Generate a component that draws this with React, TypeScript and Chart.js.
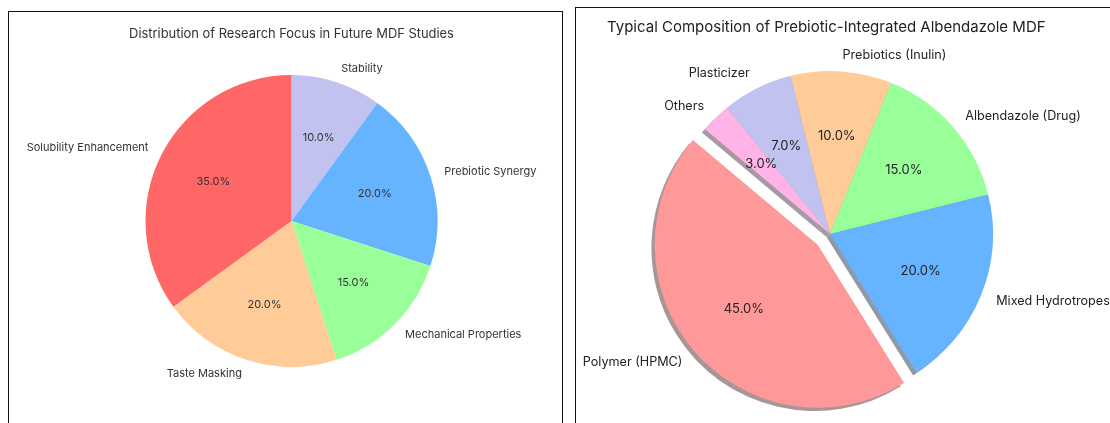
import React, { useEffect, useRef } from 'react';
import { Chart, registerables } from 'chart.js';

Chart.register(...registerables);

// ---- Left chart data ----
const focusTitle = 'Distribution of Research Focus in Future MDF Studies';
const focusLabels = ['Solubility Enhancement', 'Taste Masking', 'Mechanical Properties', 'Prebiotic Synergy', 'Stability'];
const focusValues = [35, 20, 15, 20, 10];
const focusColors = ['#ff6666', '#ffcc99', '#99ff99', '#66b3ff', '#c2c2f0'];
const focusExplode = [0, 0, 0, 0, 0];

// ---- Right chart data ----
const compTitle = 'Typical Composition of Prebiotic-Integrated Albendazole MDF';
const compLabels = ['Polymer (HPMC)', 'Mixed Hydrotropes', 'Albendazole (Drug)', 'Prebiotics (Inulin)', 'Plasticizer', 'Others'];
const compValues = [45, 20, 15, 10, 7, 3];
const compColors = ['#ff9999', '#66b3ff', '#99ff99', '#ffcc99', '#c2c2f0', '#ffb3e6'];
const compExplode = [0.1, 0, 0, 0, 0, 0];

const W = 1110;
const H = 423;
const FONT = 'Inter, Lato, "Noto Sans", sans-serif';

function hexToRgb(h: string) {
  const n = parseInt(h.slice(1), 16);
  return [(n >> 16) & 255, (n >> 8) & 255, n & 255];
}

interface PieCfg {
  labels: string[];
  values: number[];
  colors: string[];
  explode: number[];
  startAngle: number; // matplotlib-style start angle, degrees (ccw from 3 o'clock)
  cx: number;
  cy: number;
  radius: number;
  shadow: boolean;
  labelFont: number;
  pctFont: number;
  textColor: string;
  title: string;
  titleFont: number;
  titleX: number;
  titleY: number;
  titleAlign: CanvasTextAlign;
  titleColor: string;
}

function buildPie(canvas: HTMLCanvasElement, c: PieCfg) {
  // matplotlib draws counter-clockwise; Chart.js clockwise -> reverse order
  const labels = [...c.labels].reverse();
  const values = [...c.values].reverse();
  const colors = [...c.colors].reverse();
  const explode = [...c.explode].reverse();
  const total = values.reduce((a, b) => a + b, 0);

  const h = Math.min(c.cx, W - c.cx, c.cy, H - c.cy) - 1;

  const painter = {
    id: 'piePainter',
    beforeDatasetDraw(chart: any, args: any) {
      const ctx: CanvasRenderingContext2D = chart.ctx;
      const arcs = args.meta.data;
      if (c.shadow) {
        arcs.forEach((arc: any, i: number) => {
          const { x, y, startAngle, endAngle, outerRadius } = arc;
          const mid = (startAngle + endAngle) / 2;
          const ex = explode[i] * outerRadius;
          const ox = x + Math.cos(mid) * ex - 0.02 * outerRadius;
          const oy = y + Math.sin(mid) * ex + 0.02 * outerRadius;
          const [r, g, b] = hexToRgb(colors[i]);
          ctx.save();
          ctx.beginPath();
          ctx.moveTo(ox, oy);
          ctx.arc(ox, oy, outerRadius, startAngle, endAngle);
          ctx.closePath();
          ctx.fillStyle = `rgba(${Math.round(r * 0.3)},${Math.round(g * 0.3)},${Math.round(b * 0.3)},0.5)`;
          ctx.fill();
          ctx.restore();
        });
      }
      arcs.forEach((arc: any, i: number) => {
        const mid = (arc.startAngle + arc.endAngle) / 2;
        const ex = explode[i] * arc.outerRadius;
        ctx.save();
        ctx.translate(Math.cos(mid) * ex, Math.sin(mid) * ex);
        arc.draw(ctx, chart.chartArea);
        ctx.restore();
      });
      return false;
    },
    afterDatasetsDraw(chart: any) {
      const ctx: CanvasRenderingContext2D = chart.ctx;
      const arcs = chart.getDatasetMeta(0).data;
      ctx.save();
      ctx.fillStyle = c.textColor;
      ctx.textBaseline = 'middle';
      arcs.forEach((arc: any, i: number) => {
        const { x, y, startAngle, endAngle, outerRadius } = arc;
        const mid = (startAngle + endAngle) / 2;
        const ex = explode[i] * outerRadius;
        const bx = x + Math.cos(mid) * ex;
        const by = y + Math.sin(mid) * ex;
        const cos = Math.cos(mid);
        const sin = Math.sin(mid);
        // outer label
        ctx.font = `${c.labelFont}px ${FONT}`;
        ctx.textAlign = cos > 0 ? 'left' : 'right';
        ctx.fillText(labels[i], bx + cos * outerRadius * 1.1, by + sin * outerRadius * 1.1);
        // percentage
        ctx.font = `${c.pctFont}px ${FONT}`;
        ctx.textAlign = 'center';
        const pct = ((values[i] / total) * 100).toFixed(1) + '%';
        ctx.fillText(pct, bx + cos * outerRadius * 0.6, by + sin * outerRadius * 0.6);
      });
      // title
      ctx.font = `${c.titleFont}px ${FONT}`;
      ctx.fillStyle = c.titleColor;
      ctx.textAlign = c.titleAlign;
      ctx.fillText(c.title, c.titleX, c.titleY);
      ctx.restore();
    },
  };

  return new Chart(canvas, {
    type: 'pie',
    data: {
      labels,
      datasets: [
        {
          data: values,
          backgroundColor: colors,
          borderWidth: 0,
        },
      ],
    },
    options: {
      responsive: false,
      animation: false,
      events: [],
      rotation: 90 - c.startAngle,
      radius: c.radius,
      layout: {
        padding: {
          left: c.cx - h,
          right: W - c.cx - h,
          top: c.cy - h,
          bottom: H - c.cy - h,
        },
      },
      plugins: {
        legend: { display: false },
        title: { display: false },
        tooltip: { enabled: false },
      },
    } as any,
    plugins: [painter],
  });
}

export default function App() {
  const leftRef = useRef<HTMLCanvasElement>(null);
  const rightRef = useRef<HTMLCanvasElement>(null);

  useEffect(() => {
    const left = buildPie(leftRef.current!, {
      labels: focusLabels,
      values: focusValues,
      colors: focusColors,
      explode: focusExplode,
      startAngle: 90,
      cx: 291.5,
      cy: 221,
      radius: 146,
      shadow: false,
      labelFont: 11,
      pctFont: 11,
      textColor: '#333333',
      title: focusTitle,
      titleFont: 12.9,
      titleX: 291.5,
      titleY: 34,
      titleAlign: 'center',
      titleColor: '#333333',
    });
    const right = buildPie(rightRef.current!, {
      labels: compLabels,
      values: compValues,
      colors: compColors,
      explode: compExplode,
      startAngle: 140,
      cx: 830,
      cy: 234,
      radius: 163,
      shadow: true,
      labelFont: 12.6,
      pctFont: 13,
      textColor: '#222222',
      title: compTitle,
      titleFont: 15,
      titleX: 607,
      titleY: 27,
      titleAlign: 'left',
      titleColor: '#222222',
    });
    return () => {
      left.destroy();
      right.destroy();
    };
  }, []);

  return (
    <div
      style={{
        position: 'fixed',
        left: 0,
        top: 0,
        width: W,
        height: H,
        overflow: 'hidden',
        background: '#ffffff',
      }}
    >
      <div
        style={{
          position: 'absolute',
          left: 8,
          top: 11,
          width: 555,
          height: 440,
          border: '1px solid #111',
          boxSizing: 'border-box',
        }}
      />
      <div
        style={{
          position: 'absolute',
          left: 575,
          top: 7,
          width: 600,
          height: 440,
          border: '1px solid #111',
          boxSizing: 'border-box',
        }}
      />
      <canvas ref={leftRef} width={W} height={H} style={{ position: 'absolute', left: 0, top: 0 }} />
      <canvas ref={rightRef} width={W} height={H} style={{ position: 'absolute', left: 0, top: 0 }} />
    </div>
  );
}
